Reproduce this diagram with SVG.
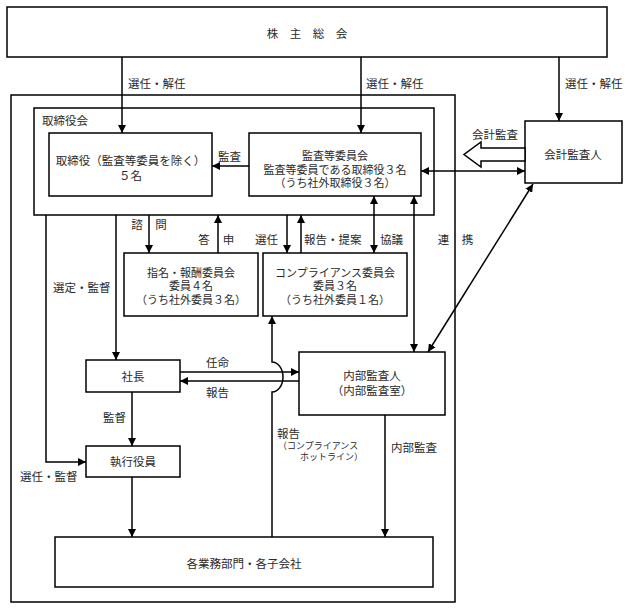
<svg xmlns="http://www.w3.org/2000/svg" width="631" height="609" viewBox="0 0 631 609">
<style>
.box{fill:#fff;stroke:#000;stroke-width:1.5}
.frame{fill:none;stroke:#000;stroke-width:1.5}
.ln{fill:none;stroke:#000;stroke-width:1.5}
.a{marker-end:url(#ah)}
.d{marker-start:url(#ah);marker-end:url(#ah)}
text{font-family:"Noto Sans CJK JP","Noto Sans",sans-serif;font-size:11.5px;fill:#2a2a2a}
.c{text-anchor:middle}
.m{font-size:11px}
.s{font-size:9px}
</style>
<defs>
<marker id="ah" viewBox="0 0 10 10" refX="10" refY="5" markerWidth="8" markerHeight="8" markerUnits="userSpaceOnUse" orient="auto-start-reverse">
<path d="M0,0 L10,5 L0,10 z" fill="#000"/>
</marker>
</defs>
<rect id="company" class="frame" x="11" y="95" width="444" height="507"/>
<g id="board">
<rect class="frame" x="34" y="108" width="400" height="107"/>
<text x="42" y="125">取締役会</text>
</g>
<g id="shareholders">
<rect class="box" x="7" y="7" width="600" height="50"/>
<text class="c" x="307" y="37.5">株　主　総　会</text>
</g>
<g id="directors">
<rect class="box" x="49" y="133" width="163" height="63"/>
<text class="c" x="130.5" y="164.5">取締役（監査等委員を除く）</text>
<text class="c" x="130.5" y="179.5">５名</text>
</g>
<g id="audit-committee">
<rect class="box" x="249" y="133" width="172" height="63"/>
<text class="c m" x="335" y="160">監査等委員会</text>
<text class="c m" x="335" y="173.5">監査等委員である取締役３名</text>
<text class="c m" x="335" y="187">（うち社外取締役３名）</text>
</g>
<g id="accounting-auditor">
<rect class="box" x="525" y="121" width="97" height="62"/>
<text class="c" x="573" y="158.5">会計監査人</text>
</g>
<g id="nomination-committee">
<rect class="box" x="124" y="253" width="134" height="63"/>
<text class="c m" x="191" y="276.5">指名・報酬委員会</text>
<text class="c m" x="191" y="290">委員４名</text>
<text class="c m" x="191" y="303.5">（うち社外委員３名）</text>
</g>
<g id="compliance-committee">
<rect class="box" x="263" y="253" width="144" height="63"/>
<text class="c m" x="335" y="276.5">コンプライアンス委員会</text>
<text class="c m" x="335" y="290">委員３名</text>
<text class="c m" x="335" y="303.5">（うち社外委員１名）</text>
</g>
<g id="internal-audit">
<rect class="box" x="299" y="352" width="146" height="63"/>
<text class="c" x="372" y="380">内部監査人</text>
<text class="c" x="372" y="394.5">（内部監査室）</text>
</g>
<g id="president">
<rect class="box" x="86" y="360" width="94" height="32"/>
<text class="c" x="133" y="380.5">社長</text>
</g>
<g id="executive-officers">
<rect class="box" x="86" y="446" width="94" height="31"/>
<text class="c" x="133" y="466">執行役員</text>
</g>
<g id="divisions">
<rect class="box" x="55" y="537" width="378" height="50"/>
<text class="c" x="244" y="567.5">各業務部門・各子会社</text>
</g>
<g id="connectors">
<line class="ln a" x1="122" y1="57" x2="122" y2="133"/>
<line class="ln a" x1="361" y1="57" x2="361" y2="133"/>
<line class="ln a" x1="559" y1="57" x2="559" y2="121"/>
<line class="ln a" x1="249" y1="166" x2="212" y2="166"/>
<polygon class="box" points="525,148 481,148 481,142 464,154.5 481,167 481,161 525,161"/>
<line class="ln d" x1="421" y1="171" x2="525" y2="171"/>
<line class="ln d" x1="533" y1="184" x2="428" y2="352"/>
<line class="ln d" x1="414" y1="196" x2="414" y2="352"/>
<line class="ln d" x1="374" y1="196" x2="374" y2="253"/>
<line class="ln a" x1="149" y1="215" x2="149" y2="253"/>
<line class="ln a" x1="218" y1="253" x2="218" y2="215"/>
<line class="ln a" x1="287" y1="215" x2="287" y2="253"/>
<line class="ln a" x1="301" y1="253" x2="301" y2="215"/>
<polyline class="ln a" points="46,215 46,462 86,462"/>
<line class="ln a" x1="116" y1="215" x2="116" y2="360"/>
<line class="ln a" x1="180" y1="372" x2="299" y2="372"/>
<line class="ln a" x1="299" y1="381" x2="180" y2="381"/>
<line class="ln a" x1="132" y1="392" x2="132" y2="446"/>
<line class="ln a" x1="132" y1="477" x2="132" y2="537"/>
<path class="ln a" d="M272,537 L272,392 A11,15 0 0 0 272,362 L272,316"/>
<line class="ln a" x1="385" y1="415" x2="385" y2="537"/>
<text x="128" y="87.5">選任・解任</text>
<text x="366" y="87.5">選任・解任</text>
<text x="565" y="87.5">選任・解任</text>
<text x="218" y="160.5">監査</text>
<text x="472" y="138.5">会計監査</text>
<text class="c" x="137" y="228.5">諮</text>
<text class="c" x="161" y="228.5">問</text>
<text class="c" x="204" y="243.5">答</text>
<text class="c" x="228.5" y="243.5">申</text>
<text x="255" y="243.5">選任</text>
<text x="304" y="243.5">報告・提案</text>
<text x="380" y="243.5">協議</text>
<text class="c" x="443.5" y="243.5">連</text>
<text class="c" x="467.5" y="243.5">携</text>
<text x="53" y="291.5">選定・監督</text>
<text x="206" y="366.5">任命</text>
<text x="206" y="396.5">報告</text>
<text x="103" y="421.5">監督</text>
<text x="20" y="480.5">選任・監督</text>
<text x="277" y="437.5">報告</text>
<text class="s" x="278" y="448.5">（コンプライアンス</text>
<text class="s" x="300" y="459.5">ホットライン）</text>
<text x="391" y="451.5">内部監査</text>
</g>
</svg>
